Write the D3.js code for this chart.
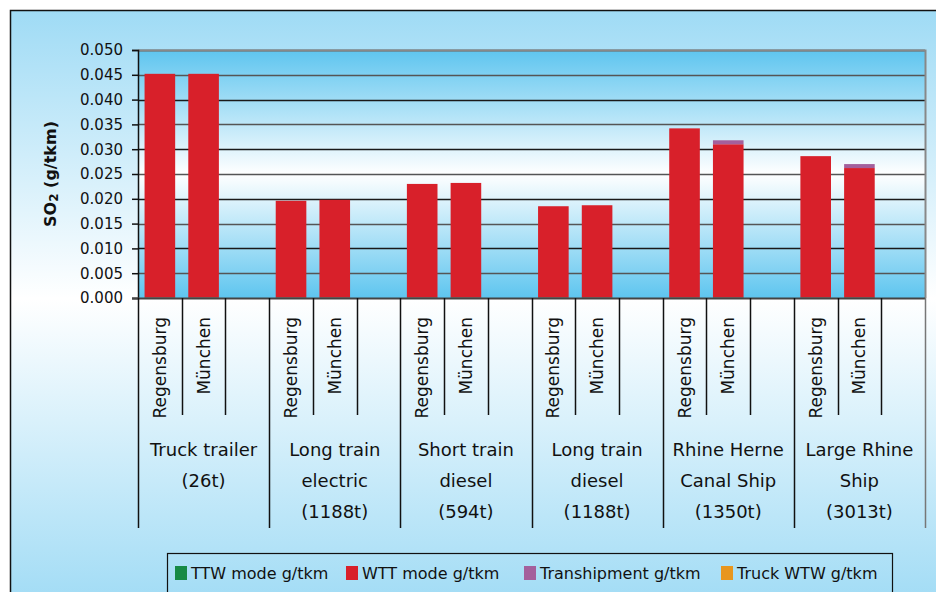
<!DOCTYPE html>
<meta charset="utf-8">
<style>
body { margin: 0; background: #fff; }
text { font-family: "DejaVu Sans", sans-serif; fill: #111; }
.grid line { stroke: #2a2a2a; stroke-width: 1.6px; }
</style>
<body>
<svg id="chart" width="936" height="592"></svg>
<script src="https://d3js.org/d3.v7.min.js"></script>
<script>

// categories
var groups = [
  ["Truck trailer", "(26t)"],
  ["Long train", "electric", "(1188t)"],
  ["Short train", "diesel", "(594t)"],
  ["Long train", "diesel", "(1188t)"],
  ["Rhine Herne", "Canal Ship", "(1350t)"],
  ["Large Rhine", "Ship", "(3013t)"]
];
var cities = ["Regensburg", "München"];
var slots = ["Regensburg", "München", ""];

// series values (g/tkm), one per group x city
var ttw      = [0.0001, 0.0001, 0.0001, 0.0001, 0.0001, 0.0001, 0.0001, 0.0001, 0.0001, 0.0001, 0.0001, 0.0001];
var wtt      = [0.0451, 0.0451, 0.0195, 0.0197, 0.0229, 0.0231, 0.0184, 0.0186, 0.0341, 0.0309, 0.0285, 0.0261];
var tranship = [0, 0, 0, 0, 0, 0, 0, 0, 0, 0.0008, 0, 0.0008];
var truckWtw = [0, 0, 0, 0, 0, 0, 0, 0, 0, 0, 0, 0];

var seriesNames = ["TTW mode g/tkm", "WTT mode g/tkm", "Transhipment g/tkm", "Truck WTW g/tkm"];
var seriesColors = ["#178a45", "#d8202a", "#a4609c", "#e8961e"];
var yTicks = [0, 0.005, 0.01, 0.015, 0.02, 0.025, 0.03, 0.035, 0.04, 0.045, 0.05];

var svg = d3.select("#chart");
var plot = {left: 138, top: 50, right: 925, bottom: 298};

var defs = svg.append("defs");
var g1 = defs.append("linearGradient").attr("id", "outerBg").attr("x1", 0).attr("y1", 0).attr("x2", 0).attr("y2", 1);
g1.append("stop").attr("offset", "0%").attr("stop-color", "#9fdbf5");
g1.append("stop").attr("offset", "48%").attr("stop-color", "#ffffff");
g1.append("stop").attr("offset", "100%").attr("stop-color", "#9fdbf5");
var g2 = defs.append("linearGradient").attr("id", "plotBg").attr("x1", 0).attr("y1", 0).attr("x2", 0).attr("y2", 1);
g2.append("stop").attr("offset", "0%").attr("stop-color", "#5ec5ef");
g2.append("stop").attr("offset", "50%").attr("stop-color", "#ffffff");
g2.append("stop").attr("offset", "100%").attr("stop-color", "#5ec5ef");

// outer frame
svg.append("rect").attr("x", 10.5).attr("y", 10.5).attr("width", 940).attr("height", 600)
  .attr("fill", "url(#outerBg)").attr("stroke", "#111").attr("stroke-width", 1.5);

// plot background
svg.append("rect").attr("x", plot.left).attr("y", plot.top)
  .attr("width", plot.right - plot.left).attr("height", plot.bottom - plot.top)
  .attr("fill", "url(#plotBg)");

var y = d3.scaleLinear().domain([0, 0.05]).range([plot.bottom, plot.top]);
var x0 = d3.scaleBand().domain(d3.range(groups.length)).range([plot.left, plot.right]).padding(0);
var x1 = d3.scaleBand().domain(slots).range([0, x0.bandwidth()]).paddingInner(0.3).paddingOuter(0.15);
var step = x0.bandwidth() / slots.length;

// gridlines
svg.append("g").attr("class", "grid")
  .selectAll("line").data(yTicks.slice(1)).join("line")
  .attr("x1", plot.left).attr("x2", plot.right)
  .attr("y1", function(d) { return Math.round(y(d)) + 0.5; })
  .attr("y2", function(d) { return Math.round(y(d)) + 0.5; })
  .style("stroke", function(d, i) { return i % 2 ? "#1a1a1a" : "#555"; });

// plot border top/right
svg.append("path")
  .attr("d", "M" + plot.left + "," + (plot.top + 0.5) + "H" + (plot.right + 0.5) + "V" + plot.bottom)
  .attr("fill", "none").attr("stroke", "#888").attr("stroke-width", 2);

// stacked bars
var rows = [];
groups.forEach(function(g, gi) {
  cities.forEach(function(c, ci) {
    var k = gi * 2 + ci;
    rows.push({g: gi, city: c, vals: [ttw[k], wtt[k], tranship[k], truckWtw[k]]});
  });
});
var bars = svg.append("g");
rows.forEach(function(r) {
  var base = 0;
  r.vals.forEach(function(v, si) {
    if (v > 0) {
      bars.append("rect")
        .attr("x", x0(r.g) + x1(r.city))
        .attr("width", x1.bandwidth())
        .attr("y", y(base + v))
        .attr("height", y(base) - y(base + v))
        .attr("fill", seriesColors[si]);
    }
    base += v;
  });
});

// y axis
var yAxis = svg.append("g").attr("transform", "translate(" + plot.left + ",0)")
  .call(d3.axisLeft(y).tickValues(yTicks).tickFormat(d3.format(".3f")).tickSize(6).tickPadding(9));
yAxis.select(".domain").attr("stroke", "#111").attr("stroke-width", 1.5);
yAxis.selectAll(".tick line").attr("stroke", "#111").attr("stroke-width", 1.5);
yAxis.selectAll("text").style("font-size", "15px").attr("fill", "#111");

svg.append("text")
  .attr("transform", "translate(56," + ((plot.top + plot.bottom) / 2) + ") rotate(-90)")
  .attr("text-anchor", "middle")
  .style("font-size", "16px").style("font-weight", "bold")
  .call(function(t) {
    t.append("tspan").text("SO");
    t.append("tspan").text("2").style("font-size", "12px").attr("dy", 2);
    t.append("tspan").text(" (g/tkm)").attr("dy", -2);
  });

// x axis base line
svg.append("line").attr("x1", plot.left - 6).attr("x2", plot.right)
  .attr("y1", plot.bottom + 0.5).attr("y2", plot.bottom + 0.5)
  .attr("stroke", "#444").attr("stroke-width", 2);

// category tick lines and labels
var xAx = svg.append("g");
groups.forEach(function(g, gi) {
  var gx = x0(gi);
  for (var s = 0; s <= slots.length; s++) {
    var lx = Math.round(gx + s * step) + 0.5;
    if (s === 0 || (s === slots.length && gi === groups.length - 1)) {
      xAx.append("line").attr("x1", lx).attr("x2", lx).attr("y1", plot.bottom).attr("y2", 528)
        .attr("stroke", s === slots.length ? "#777" : "#111").attr("stroke-width", 1.5);
    } else if (s < slots.length) {
      xAx.append("line").attr("x1", lx).attr("x2", lx).attr("y1", plot.bottom).attr("y2", 415)
        .attr("stroke", "#111").attr("stroke-width", 1.5);
    }
  }
  cities.forEach(function(c) {
    var cx = gx + x1(c) + x1.bandwidth() / 2;
    xAx.append("text")
      .attr("transform", "translate(" + (cx + 6) + ",317) rotate(-90)")
      .attr("text-anchor", "end")
      .style("font-size", "17px")
      .text(c);
  });
  var t = xAx.append("text").attr("text-anchor", "middle").style("font-size", "18px");
  g.forEach(function(line, li) {
    t.append("tspan").attr("x", gx + x0.bandwidth() / 2).attr("y", 456 + li * 31).text(line);
  });
});

// legend
var leg = svg.append("g");
leg.append("rect").attr("x", 167.5).attr("y", 553.5).attr("width", 725).attr("height", 50)
  .attr("fill", "none").attr("stroke", "#111").attr("stroke-width", 1.2);
var legX = [175, 346, 524, 721];
seriesNames.forEach(function(n, i) {
  leg.append("rect").attr("x", legX[i]).attr("y", 566).attr("width", 12).attr("height", 14)
    .attr("fill", seriesColors[i]);
  leg.append("text").attr("x", legX[i] + 16).attr("y", 579)
    .style("font-size", "16px").text(n);
});

</script>
</body>
